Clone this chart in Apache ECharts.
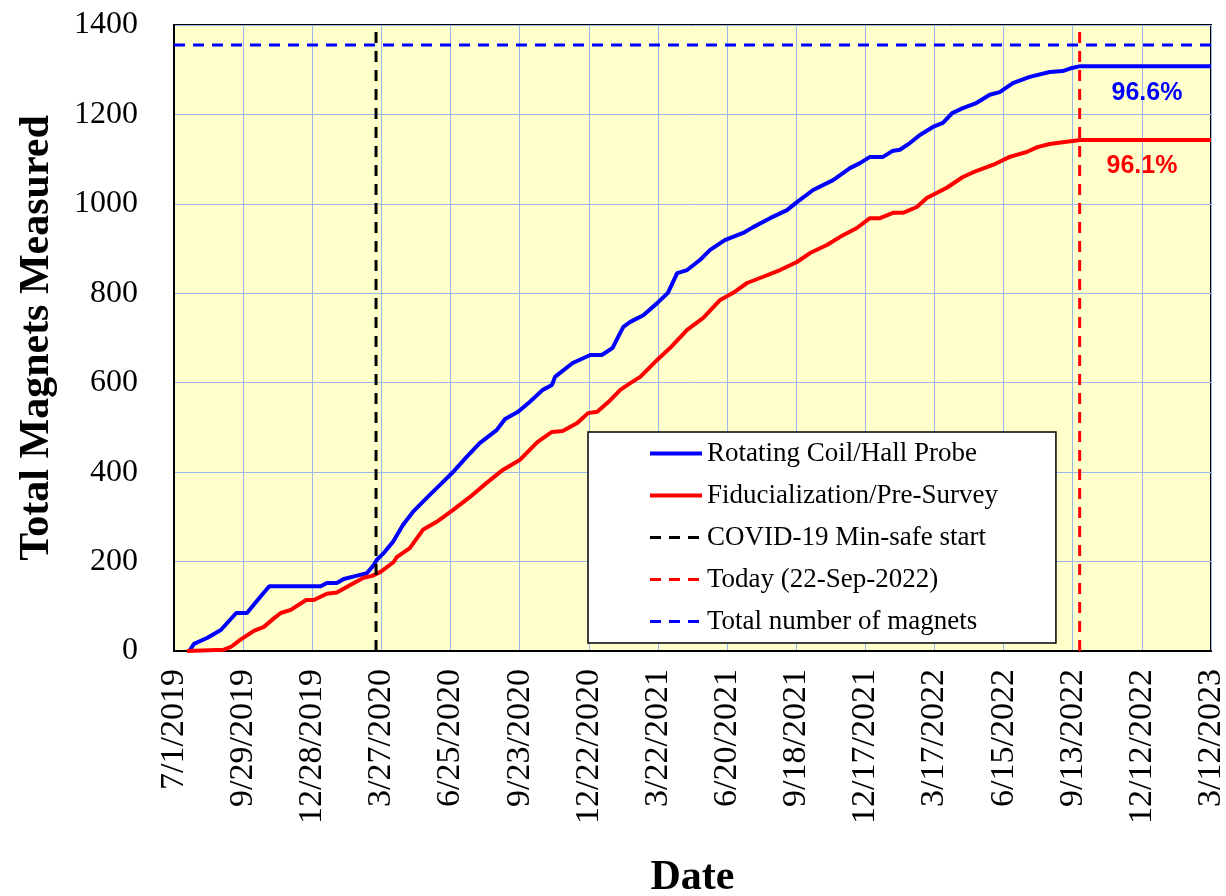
<!DOCTYPE html>
<html>
<head>
<meta charset="utf-8">
<script src="https://cdn.jsdelivr.net/npm/echarts@6/dist/echarts.min.js"></script>
<style>
  html, body { margin: 0; padding: 0; background: #fff; }
  #chart { width: 1226px; height: 896px; }
</style>
</head>
<body>
<div id="chart"></div>
<script>
// days counted from 7/1/2019
const startDate = '2019-07-01'
const axisDays = [0, 1350] // 7/1/2019 .. 3/12/2023
const tickStep = 90

// Rotating Coil/Hall Probe
const rcDays = [20, 26, 43, 61, 81, 95, 107, 124, 191, 199, 212, 221, 237, 251, 260, 264, 273, 285, 298, 311,
  333, 349, 362, 381, 398, 420, 431, 448, 463, 480, 492, 496, 519, 542, 557, 571, 578, 585, 594, 611,
  629, 643, 655, 668, 685, 698, 717, 741, 754, 776, 798, 811, 832, 858, 880, 893, 906, 923, 935, 945,
  958, 971, 988, 1001, 1013, 1027, 1045, 1062, 1075, 1092, 1114, 1140, 1157, 1169, 1180, 1350]
const rcCount = [0, 16, 29, 47, 85, 85, 110, 145, 145, 152, 152, 161, 168, 174, 192, 204, 219, 244, 282, 311,
  349, 376, 398, 434, 465, 494, 519, 535, 557, 584, 595, 613, 644, 662, 662, 678, 702, 725, 736, 751,
  778, 801, 845, 852, 875, 897, 919, 935, 948, 968, 986, 1004, 1031, 1053, 1080, 1091, 1105, 1105, 1118, 1121,
  1136, 1154, 1172, 1181, 1203, 1214, 1226, 1244, 1250, 1270, 1284, 1295, 1297, 1304, 1308, 1308]

// Fiducialization/Pre-Survey
const fidDays = [17, 65, 74, 87, 104, 117, 130, 139, 152, 172, 182, 199, 212, 230, 247, 258, 269, 286, 290, 307,
  324, 342, 363, 385, 407, 428, 450, 473, 492, 506, 525, 539, 551, 568, 581, 594, 607, 629, 646, 668,
  689, 711, 728, 746, 767, 789, 811, 828, 850, 871, 889, 906, 919, 936, 949, 967, 980, 1006, 1027, 1045,
  1066, 1088, 1110, 1124, 1140, 1157, 1180, 1350]
const fidCount = [0, 3, 9, 26, 45, 54, 73, 85, 92, 114, 114, 128, 131, 148, 164, 168, 177, 199, 210, 230,
  271, 289, 315, 344, 376, 405, 427, 467, 490, 492, 510, 532, 535, 561, 584, 599, 613, 651, 678, 718,
  745, 785, 801, 823, 837, 852, 870, 890, 908, 930, 946, 968, 968, 980, 980, 993, 1013, 1036, 1060, 1074,
  1087, 1105, 1116, 1127, 1134, 1138, 1143, 1143]

const covidStart = '2020-03-20'
const today = '2022-09-22'
const totalMagnets = 1355
const yTicks = [0, 1400, 200]
const pctLabels = ['96.6%', '96.1%']

const DAY = 86400000
const t0 = Date.parse(startDate + 'T00:00:00Z')
const dayOf = s => Math.round((Date.parse(s + 'T00:00:00Z') - t0) / DAY)
const dateLabel = v => {
  const d = new Date(t0 + v * DAY)
  return (d.getUTCMonth() + 1) + '/' + d.getUTCDate() + '/' + d.getUTCFullYear()
}
const zip = (xs, ys) => xs.map((x, i) => [x, ys[i]])

const serif = 'Liberation Serif'
const dash = [11, 8]
const chart = echarts.init(document.getElementById('chart'))

const option = {
  animation: false,
  backgroundColor: '#fff',
  grid: {
    left: 174,
    right: 15,
    top: 25,
    bottom: 245,
    outerBoundsMode: 'none',
    containLabel: false,
    show: true,
    backgroundColor: '#FFFFCC',
    borderColor: '#000',
    borderWidth: 2
  },
  legend: {
    orient: 'vertical',
    left: 588,
    top: 432,
    padding: [8, 58, 8, 60],
    itemWidth: 52,
    itemHeight: 20,
    itemGap: 15,
    backgroundColor: '#fff',
    borderColor: '#000',
    borderWidth: 1.5,
    itemStyle: { opacity: 0 },
    textStyle: {
      fontFamily: serif,
      fontSize: 27,
      lineHeight: 27,
      color: '#000'
    },
    data: [
      { name: 'Rotating Coil/Hall Probe', lineStyle: { color: '#0000FF', width: 4, type: 'solid' } },
      { name: 'Fiducialization/Pre-Survey', lineStyle: { color: '#FF0000', width: 4, type: 'solid' } },
      { name: 'COVID-19 Min-safe start', lineStyle: { color: '#000', width: 3, type: dash } },
      { name: 'Today (22-Sep-2022)', lineStyle: { color: '#FF0000', width: 3, type: dash } },
      { name: 'Total number of magnets', lineStyle: { color: '#0000FF', width: 3, type: dash } }
    ]
  },
  xAxis: {
    type: 'value',
    min: axisDays[0],
    max: axisDays[1],
    interval: tickStep,
    name: 'Date',
    nameLocation: 'middle',
    nameGap: 206,
    nameTextStyle: { fontFamily: serif, fontSize: 42, fontWeight: 'bold', color: '#000' },
    axisLine: { show: true, lineStyle: { color: '#000', width: 2 } },
    axisTick: { show: false },
    axisLabel: {
      rotate: 90,
      margin: 18,
      fontFamily: serif,
      fontSize: 34,
      color: '#000',
      formatter: dateLabel
    },
    splitLine: { show: true, lineStyle: { color: '#9BB6EA', width: 1 } }
  },
  yAxis: {
    type: 'value',
    min: yTicks[0],
    max: yTicks[1],
    interval: yTicks[2],
    name: 'Total Magnets Measured',
    nameLocation: 'middle',
    nameGap: 116,
    nameTextStyle: { fontFamily: serif, fontSize: 42, fontWeight: 'bold', color: '#000' },
    axisLine: { show: true, lineStyle: { color: '#000', width: 2 } },
    axisTick: { show: false },
    axisLabel: {
      margin: 36,
      fontFamily: serif,
      fontSize: 32,
      color: '#000',
      formatter: v => String(v)
    },
    splitLine: { show: true, lineStyle: { color: '#9BB6EA', width: 1 } }
  },
  series: [
    {
      name: 'Rotating Coil/Hall Probe',
      type: 'line',
      symbol: 'none',
      color: '#0000FF',
      lineStyle: { color: '#0000FF', width: 4 },
      data: zip(rcDays, rcCount),
      z: 3
    },
    {
      name: 'Fiducialization/Pre-Survey',
      type: 'line',
      symbol: 'none',
      color: '#FF0000',
      lineStyle: { color: '#FF0000', width: 4 },
      data: zip(fidDays, fidCount),
      z: 3
    },
    {
      name: 'COVID-19 Min-safe start',
      type: 'line',
      symbol: 'none',
      color: '#000',
      lineStyle: { color: '#000', width: 3, type: dash },
      data: [[dayOf(covidStart), yTicks[0]], [dayOf(covidStart), yTicks[1]]],
      z: 4
    },
    {
      name: 'Today (22-Sep-2022)',
      type: 'line',
      symbol: 'none',
      color: '#FF0000',
      lineStyle: { color: '#FF0000', width: 3, type: dash },
      data: [[dayOf(today), yTicks[0]], [dayOf(today), yTicks[1]]],
      z: 4
    },
    {
      name: 'Total number of magnets',
      type: 'line',
      symbol: 'none',
      color: '#0000FF',
      lineStyle: { color: '#0000FF', width: 3, type: dash },
      data: [[axisDays[0], totalMagnets], [axisDays[1], totalMagnets]],
      z: 4
    }
  ],
  graphic: [
    {
      type: 'text',
      x: 1147,
      y: 93,
      z: 10,
      style: {
        text: pctLabels[0],
        align: 'center',
        verticalAlign: 'middle',
        font: 'bold 25px "Liberation Sans"',
        fill: '#0000FF'
      }
    },
    {
      type: 'text',
      x: 1142,
      y: 166,
      z: 10,
      style: {
        text: pctLabels[1],
        align: 'center',
        verticalAlign: 'middle',
        font: 'bold 25px "Liberation Sans"',
        fill: '#FF0000'
      }
    }
  ]
}

chart.setOption(option)
</script>
</body>
</html>
